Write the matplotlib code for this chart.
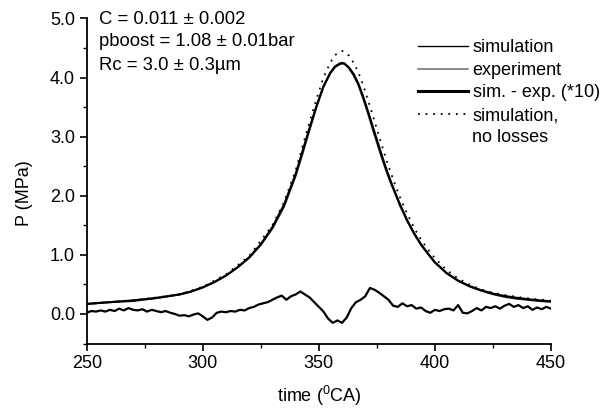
import numpy as np
import matplotlib
matplotlib.use("Agg")
import matplotlib.pyplot as plt
from matplotlib.lines import Line2D

plt.rcParams['font.family'] = ['Liberation Sans', 'DejaVu Sans']
plt.rcParams['mathtext.fontset'] = 'custom'
plt.rcParams['mathtext.rm'] = 'Liberation Sans'
plt.rcParams['mathtext.it'] = 'Liberation Sans'

# ---- data ----
t_sim = [250, 260, 270, 280, 290, 295, 300, 305, 310, 315, 320, 325, 330, 335, 340,
         343, 346, 349, 352, 355, 357, 359, 360, 361, 363, 365, 367, 369, 371, 373,
         375, 377, 379, 381, 383, 385, 388, 391, 394, 397, 400, 405, 410, 415, 420,
         425, 430, 435, 440, 445, 450]
p_sim = [0.17, 0.20, 0.23, 0.27, 0.33, 0.38, 0.45, 0.54, 0.65, 0.79, 0.96, 1.18, 1.47, 1.85, 2.37,
         2.76, 3.15, 3.52, 3.85, 4.08, 4.18, 4.23, 4.24, 4.235, 4.17, 4.06, 3.90, 3.69, 3.45, 3.20,
         2.95, 2.70, 2.46, 2.24, 2.04, 1.85, 1.59, 1.37, 1.18, 1.02, 0.875, 0.695, 0.565, 0.47, 0.40,
         0.345, 0.305, 0.275, 0.25, 0.23, 0.215]
p_exp = [0.17, 0.20, 0.22, 0.27, 0.33, 0.38, 0.45, 0.54, 0.65, 0.79, 0.95, 1.17, 1.45, 1.82, 2.34,
         2.72, 3.12, 3.51, 3.85, 4.09, 4.19, 4.24, 4.25, 4.24, 4.16, 4.04, 3.88, 3.66, 3.42, 3.16,
         2.91, 2.66, 2.43, 2.22, 2.03, 1.83, 1.58, 1.36, 1.17, 1.02, 0.87, 0.69, 0.56, 0.465, 0.395,
         0.335, 0.29, 0.26, 0.24, 0.22, 0.205]
t_nl = [250, 270, 290, 300, 310, 320, 330, 335, 340, 343, 346, 349, 352, 355, 357,
        359, 360, 361, 363, 365, 367, 369, 371, 373, 375, 377, 379, 381, 383, 385,
        388, 391, 394, 397, 400, 405, 410, 415, 420, 425, 430, 435, 440, 445, 450]
p_nl = [0.17, 0.23, 0.33, 0.46, 0.67, 0.98, 1.50, 1.89, 2.43, 2.84, 3.25, 3.64, 4.00, 4.26, 4.38,
        4.44, 4.45, 4.44, 4.37, 4.25, 4.09, 3.88, 3.64, 3.39, 3.13, 2.87, 2.62, 2.39, 2.17, 1.97,
        1.70, 1.46, 1.26, 1.09, 0.945, 0.745, 0.60, 0.495, 0.415, 0.36, 0.32, 0.29, 0.265, 0.245, 0.225]
t_diff = np.arange(250, 451, 2)
p_diff = [0.02, 0.05, 0.04, 0.06, 0.04, 0.07, 0.05, 0.09, 0.06, 0.10,
          0.07, 0.06, 0.08, 0.04, 0.07, 0.05, 0.03, 0.05, 0.02, 0.00,
          -0.03, -0.02, -0.04, -0.01, 0.01, -0.04, -0.10, -0.06, 0.02, 0.04,
          0.03, 0.05, 0.04, 0.07, 0.06, 0.10, 0.12, 0.16, 0.18, 0.20,
          0.24, 0.28, 0.31, 0.24, 0.30, 0.33, 0.38, 0.33, 0.28, 0.20,
          0.12, 0.04, -0.08, -0.15, -0.11, -0.15, -0.06, 0.10, 0.20, 0.24,
          0.30, 0.44, 0.41, 0.36, 0.30, 0.24, 0.14, 0.12, 0.18, 0.13,
          0.15, 0.09, 0.11, 0.05, 0.02, 0.07, 0.05, 0.08, 0.09, 0.06,
          0.15, 0.02, 0.01, 0.05, 0.10, 0.06, 0.12, 0.10, 0.13, 0.09,
          0.14, 0.17, 0.12, 0.15, 0.10, 0.13, 0.07, 0.11, 0.08, 0.12,
          0.09]
yticks = [0.0, 1.0, 2.0, 3.0, 4.0, 5.0]
xticks = [250, 300, 350, 400, 450]
annot = ["C = 0.011 \u00b1 0.002", "pboost = 1.08 \u00b1 0.01bar", "Rc = 3.0 \u00b1 0.3\u00b5m"]
labels = ["simulation", "experiment", "sim. - exp. (*10)", "simulation,"]

fig = plt.figure(figsize=(6.12, 4.11), dpi=100)
ax = fig.add_axes([0.1417, 0.1642, 0.7586, 0.7908])

dot_style = (0, (1.0, 3.2))
ax.plot(t_nl, p_nl, color='black', lw=1.3, linestyle=dot_style)
ax.plot(t_sim, p_exp, color='#222222', lw=1.5)
ax.plot(t_sim, p_sim, color='black', lw=1.5)
ax.plot(t_diff, p_diff, color='black', lw=1.6)

ax.set_xlim(250, 450)
ax.set_ylim(-0.5, 5.0)
ax.set_xticks(xticks)
ax.set_xticks(np.arange(250, 451, 25), minor=True)
ax.set_yticks(yticks)
ax.set_yticklabels([f"{v:.1f}" for v in yticks])
ax.set_yticks(np.arange(-0.5, 5.01, 0.5), minor=True)
for s in ['top', 'right']:
    ax.spines[s].set_visible(False)
for s in ['left', 'bottom']:
    ax.spines[s].set_linewidth(1.3)
ax.tick_params(which='major', direction='out', length=4.8, width=1.2, labelsize=13)
ax.tick_params(axis='y', which='major', pad=3.6)
ax.tick_params(axis='x', which='major', pad=3.5)
ax.tick_params(which='minor', direction='out', length=2.8, width=1.0)

ax.set_xlabel("time ($^{0}$CA)", fontsize=13)
ax.set_ylabel("P (MPa)", fontsize=13)
ax.xaxis.set_label_coords(0.5, -0.125)
ax.yaxis.set_label_coords(-0.115, 0.463)

for i, s in enumerate(annot):
    fig.text(99 / 612, 1 - (19 + 23 * i) / 411, s, fontsize=13.3, va='center', ha='left')

handles = [Line2D([], [], color='black', lw=1.0),
           Line2D([], [], color='#777777', lw=1.2),
           Line2D([], [], color='black', lw=2.2),
           Line2D([], [], color='black', lw=1.3, linestyle=dot_style)]
leg = ax.legend(handles, labels, loc='upper left', bbox_to_anchor=(418 / 612, 1 - 39.3 / 411),
                bbox_transform=fig.transFigure, frameon=False, fontsize=13,
                handlelength=2.77, handletextpad=0.26, labelspacing=0.31, borderpad=0, borderaxespad=0)
fig.text(472 / 612, 1 - 137 / 411, "no losses", fontsize=13, va='center', ha='left')

fig.savefig("out.png", dpi=100)
